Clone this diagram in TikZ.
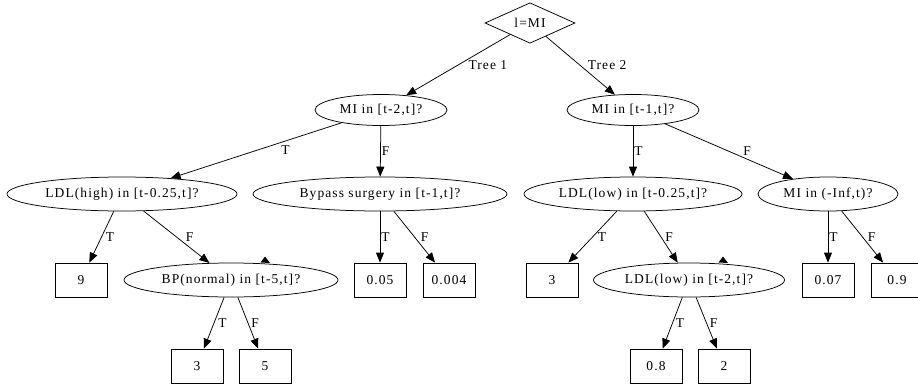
\documentclass[tikz,border=0pt]{standalone}
\usepackage{fontspec}
\setmainfont{Liberation Serif}[LetterSpace=8]
\usetikzlibrary{shapes.geometric,arrows.meta}

\begin{document}
\begin{tikzpicture}[x=1pt,y=-1pt,line width=0.75pt,
condb/.style={
  draw,
  ellipse,
  inner sep=0pt,
  minimum height=34pt,
  font=\fontsize{13.5}{15}\selectfont},
leafb/.style={condb,rectangle,minimum width=52pt},
rootb/.style={condb,diamond,minimum width=90pt},
arr/.style={-{Triangle[length=10pt,width=8pt]}},
lbl/.style={midway,anchor=west,inner sep=1pt,font=\fontsize{13.5}{15}\selectfont},
]
\clip (0,0) rectangle (918,383);
% root and first split
\node[rootb] (root) at (530,23) {l=MI};
\node[condb, minimum width=132pt, minimum height=31pt] (mia) at (381,110) {MI in [t-2,t]?};
\node[condb, minimum width=132pt, minimum height=31pt] (mib) at (633,110) {MI in [t-1,t]?};
% second row
\node[condb, minimum width=230pt] (ldlh) at (122,194) {LDL(high) in [t-0.25,t]?};
\node[condb, minimum width=254pt] (byp) at (380,194) {Bypass surgery in [t-1,t]?};
\node[condb, minimum width=218pt] (ldll) at (633,194) {LDL(low) in [t-0.25,t]?};
\node[condb, minimum width=140pt] (mii) at (828,194) {MI in (-Inf,t)?};
% third row
\node[leafb] (nine) at (81,280) {9};
\node[condb, minimum width=214pt] (bp) at (231,280) {BP(normal) in [t-5,t]?};
\node[leafb] (ofive) at (380,280) {0.05};
\node[leafb] (ofour) at (449,280) {0.004};
\node[leafb] (threeb) at (552,280) {3};
\node[condb, minimum width=191pt] (ldlt) at (689,280) {LDL(low) in [t-2,t]?};
\node[leafb] (oseven) at (828,280) {0.07};
\node[leafb] (onine) at (897,280) {0.9};
% last row
\node[leafb] (threea) at (197,366) {3};
\node[leafb] (five) at (265,366) {5};
\node[leafb] (oeight) at (656,366) {0.8};
\node[leafb] (two) at (724,366) {2};

\draw[arr] (root) -- (mia) node[lbl, xshift=9pt] {Tree 1};
\draw[arr] (root) -- (mib) node[lbl, xshift=6pt] {Tree 2};
\draw[arr] (mia) -- (ldlh) node[lbl, xshift=24pt] {T};
\draw[arr] (mia) -- (byp) node[lbl] {F};
\draw[arr] (mib) -- (ldll) node[lbl] {T};
\draw[arr] (mib) -- (mii) node[lbl, xshift=13pt] {F};
\draw[arr] (ldlh) -- (nine) node[lbl, xshift=3pt] {T};
\draw[arr] (ldlh) -- (bp) node[lbl, xshift=8pt] {F};
\draw[arr] (byp) -- (ofive) node[lbl] {T};
\draw[arr] (byp) -- (ofour) node[lbl, xshift=5pt] {F};
\draw[arr] (ldll) -- (threeb) node[lbl, xshift=4pt] {T};
\draw[arr] (ldll) -- (ldlt) node[lbl, xshift=3pt] {F};
\draw[arr] (mii) -- (oseven) node[lbl] {T};
\draw[arr] (mii) -- (onine) node[lbl, xshift=4pt] {F};
\draw[arr] (bp) -- (threea) node[lbl, xshift=3pt] {T};
\draw[arr] (bp) -- (five) node[lbl, xshift=2pt] {F};
\draw[arr] (ldlt) -- (oeight) node[lbl, xshift=2pt] {T};
\draw[arr] (ldlt) -- (two) node[lbl, xshift=2pt] {F};
% loose arrow tips on top of the lower ellipses
\fill (265,256.5) -- (270,263) -- (260.5,262.5) -- cycle;
\fill (723,256.5) -- (728,263) -- (718.5,262.5) -- cycle;
\end{tikzpicture}
\end{document}
